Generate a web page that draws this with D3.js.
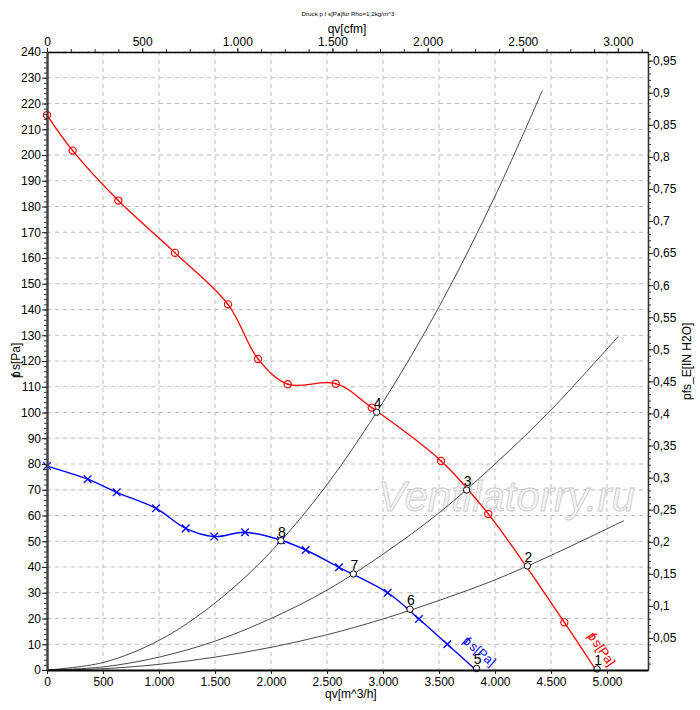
<!DOCTYPE html>
<html>
<head>
<meta charset="utf-8">
<script src="https://cdn.jsdelivr.net/npm/d3@7"></script>
<style>
  body { margin: 0; background: #fff; }
  text { font-family: "Liberation Sans", Arial, sans-serif; }
</style>
</head>
<body>
<div id="chart"></div>
<script>
// fan curves, values (q in m^3/h, p in Pa)
var redQ = [0, 229, 637, 1143, 1616, 1884, 2149, 2578, 2899, 3518, 3940, 4619, 4900];
var redP = [215.5, 201.7, 182.3, 162, 142, 120.8, 111, 111.2, 101.9, 81.2, 60.6, 18.5, 0];

var blueQ = [0, 363, 622, 973, 1238, 1494, 1768, 2089, 2310, 2607, 3042, 3321, 3574, 3830];
var blueP = [79.2, 74.1, 69.0, 62.8, 55.0, 51.8, 53.5, 50.4, 46.6, 39.9, 30.0, 19.8, 10.0, 0];

// system curves (black)
var sysAQ = [0, 500, 1000, 1500, 2000, 2500, 3000, 3500, 4000, 4422];
var sysAP = [0, 2.9, 11.5, 26, 46, 72, 104, 141, 184, 225];
var sysBQ = [0, 500, 1000, 1500, 2000, 2500, 3000, 3500, 4000, 4500, 5100];
var sysBP = [0, 1.2, 5, 11.2, 20, 31, 45, 61, 80, 101, 129.5];
var sysCQ = [0, 500, 1000, 1500, 2000, 2500, 3000, 3500, 4000, 4500, 5150];
var sysCP = [0, 0.5, 2.2, 5, 8.8, 13.7, 19.8, 27, 35, 44.5, 58];

// operating points 1..8
var opLabels = ["1", "2", "3", "4", "5", "6", "7", "8"];
var opQ = [4911, 4289, 3747, 2943, 3835, 3241, 2735, 2089];
var opP = [0.4, 40.4, 69.9, 100.1, 0.6, 23.6, 37.3, 50.2];

// ticks
var leftTicks = [0, 10, 20, 30, 40, 50, 60, 70, 80, 90, 100, 110, 120, 130, 140, 150, 160, 170, 180, 190, 200, 210, 220, 230, 240];
var rightTicks = [0.05, 0.1, 0.15, 0.2, 0.25, 0.3, 0.35, 0.4, 0.45, 0.5, 0.55, 0.6, 0.65, 0.7, 0.75, 0.8, 0.85, 0.9, 0.95];
var bottomTicks = [0, 500, 1000, 1500, 2000, 2500, 3000, 3500, 4000, 4500, 5000];
var topTicks = [0, 500, 1000, 1500, 2000, 2500, 3000];

var qMax = 5366;      // m^3/h at right edge
var cfmFactor = 1.699; // m^3/h per cfm
var paPerInch = 249.089;

var w = 700, h = 710;
var pl = 47, pr = 648, pt = 52, pb = 670; // plot box

var svg = d3.select("#chart").append("svg")
    .attr("width", w)
    .attr("height", h);

var x = d3.scaleLinear().domain([0, qMax]).range([pl, pr]);
var y = d3.scaleLinear().domain([0, 240]).range([pb, pt]);
var xCfm = d3.scaleLinear().domain([0, qMax / cfmFactor]).range([pl, pr]);
var yIn = d3.scaleLinear().domain([0, 240 / paPerInch]).range([pb, pt]);

var de = d3.formatLocale({ decimal: ",", thousands: ".", grouping: [3], currency: ["", ""] });
var fmtQ = de.format(",");
var fmtIn = function (d) { return de.format(".2~f")(d); };

// grid
svg.append("g").selectAll("line")
    .data(leftTicks.slice(1))
    .enter().append("line")
    .attr("x1", pl).attr("x2", pr)
    .attr("y1", d => y(d)).attr("y2", d => y(d))
    .attr("stroke", "#bdbdbd").attr("stroke-dasharray", "4,4");
svg.append("g").selectAll("line")
    .data(bottomTicks.slice(1))
    .enter().append("line")
    .attr("x1", d => x(d)).attr("x2", d => x(d))
    .attr("y1", pt).attr("y2", pb)
    .attr("stroke", "#bdbdbd").attr("stroke-dasharray", "4,4");

// watermark
svg.append("text")
    .attr("x", 378).attr("y", 511)
    .attr("font-size", "42px")
    .attr("font-style", "italic")
    .attr("fill", "#f4f4f4")
    .attr("stroke", "#cacaca")
    .attr("stroke-width", 0.8)
    .text("Ventilatorry.ru");

// system curves
var line = d3.line().x(d => x(d[0])).y(d => y(d[1])).curve(d3.curveCatmullRom);
[[sysAQ, sysAP], [sysBQ, sysBP], [sysCQ, sysCP]].forEach(function (s) {
    svg.append("path")
        .datum(d3.zip(s[0], s[1]))
        .attr("d", line)
        .attr("fill", "none")
        .attr("stroke", "#333")
        .attr("stroke-width", 0.9);
});

// red curve
var redData = d3.zip(redQ, redP);
svg.append("path")
    .datum(redData)
    .attr("d", line)
    .attr("fill", "none")
    .attr("stroke", "#ff0000")
    .attr("stroke-width", 1.3);
var rm = svg.append("g").selectAll("g")
    .data(redData.slice(0, -1))
    .enter().append("g")
    .attr("transform", d => "translate(" + x(d[0]) + "," + y(d[1]) + ")");
rm.append("circle").attr("r", 3.6).attr("fill", "none").attr("stroke", "#ff0000").attr("stroke-width", 1.2);
rm.append("circle").attr("r", 0.8).attr("fill", "#ff0000");

// blue curve
var blueData = d3.zip(blueQ, blueP);
svg.append("path")
    .datum(blueData)
    .attr("d", line)
    .attr("fill", "none")
    .attr("stroke", "#0000ff")
    .attr("stroke-width", 1.4);
svg.append("g").selectAll("path")
    .data(blueData.slice(0, -1))
    .enter().append("path")
    .attr("d", function (d) {
        var cx = x(d[0]), cy = y(d[1]), s = 3.8;
        return "M" + (cx - s) + "," + (cy - s) + "L" + (cx + s) + "," + (cy + s) +
            "M" + (cx - s) + "," + (cy + s) + "L" + (cx + s) + "," + (cy - s);
    })
    .attr("stroke", "#0000ff")
    .attr("stroke-width", 1.3);

// curve labels
function pfLabel(sel, txt) {
    sel.append("tspan").text("p");
    sel.append("tspan").attr("dx", "-0.45em").text("f");
    sel.append("tspan").text(txt);
}
pfLabel(svg.append("text")
    .attr("transform", "translate(587,636) rotate(55)")
    .attr("font-size", "13px")
    .attr("fill", "#ff0000"), " s[Pa]");
pfLabel(svg.append("text")
    .attr("transform", "translate(462,642) rotate(41)")
    .attr("font-size", "13px")
    .attr("fill", "#0000ff"), " s[Pa]");

// operating points
var ops = d3.zip(opQ, opP, opLabels);
svg.append("g").selectAll("circle")
    .data(ops)
    .enter().append("circle")
    .attr("cx", d => x(d[0])).attr("cy", d => y(d[1]))
    .attr("r", 3.2)
    .attr("fill", "#fff")
    .attr("stroke", "#000")
    .attr("stroke-width", 1);
svg.append("g").selectAll("text")
    .data(ops)
    .enter().append("text")
    .attr("x", d => x(d[0]) + 1).attr("y", d => y(d[1]) - 4)
    .attr("text-anchor", "middle")
    .attr("font-size", "14px")
    .text(d => d[2]);

// axes
function styleAxis(g, col, width) {
    g.select(".domain").attr("stroke", col).attr("stroke-width", width);
    g.selectAll(".tick line").attr("stroke", "#222");
    g.selectAll("text").attr("font-size", "12px").attr("fill", "#000")
        .attr("font-family", "Liberation Sans, Arial, sans-serif");
}

// minor ticks
svg.append("g")
    .attr("transform", "translate(" + pl + ",0)")
    .call(d3.axisLeft(y).tickValues(d3.range(0, 241, 2)).tickSize(3).tickSizeOuter(0).tickFormat(""))
    .call(g => g.select(".domain").remove())
    .selectAll("line").attr("stroke", "#333");
svg.append("g")
    .attr("transform", "translate(" + pr + ",0)")
    .call(d3.axisRight(yIn).tickValues(d3.range(1, 97).map(d => d / 100)).tickSize(3).tickSizeOuter(0).tickFormat(""))
    .call(g => g.select(".domain").remove())
    .selectAll("line").attr("stroke", "#333");
svg.append("g")
    .attr("transform", "translate(0," + pt + ")")
    .call(d3.axisTop(xCfm).tickValues(d3.range(0, 3151, 125)).tickSize(3).tickSizeOuter(0).tickFormat(""))
    .call(g => g.select(".domain").remove())
    .selectAll("line").attr("stroke", "#333");

var gl = svg.append("g")
    .attr("transform", "translate(" + pl + ",0)")
    .call(d3.axisLeft(y).tickValues(leftTicks).tickSize(5).tickPadding(1).tickSizeOuter(0));
styleAxis(gl, "#444", 2.5);

var gr = svg.append("g")
    .attr("transform", "translate(" + pr + ",0)")
    .call(d3.axisRight(yIn).tickValues(rightTicks).tickSize(5).tickPadding(0).tickSizeOuter(0).tickFormat(fmtIn));
styleAxis(gr, "#333", 1.6);

var gb = svg.append("g")
    .attr("transform", "translate(0," + pb + ")")
    .call(d3.axisBottom(x).tickValues(bottomTicks).tickSize(4).tickPadding(3).tickSizeOuter(0).tickFormat(fmtQ));
styleAxis(gb, "#000", 2.2);

var gt = svg.append("g")
    .attr("transform", "translate(0," + pt + ")")
    .call(d3.axisTop(xCfm).tickValues(topTicks).tickSize(4).tickPadding(2).tickSizeOuter(0).tickFormat(fmtQ));
styleAxis(gt, "#000", 1.6);

// titles
svg.append("text")
    .attr("x", 348).attr("y", 16)
    .attr("text-anchor", "middle")
    .attr("font-size", "6.2px")
    .text("Druck p f s[Pa]für Rho=1,2kg/m^3");

svg.append("text")
    .attr("x", 347).attr("y", 33)
    .attr("text-anchor", "middle")
    .attr("font-size", "12px")
    .text("qv[cfm]");

svg.append("text")
    .attr("x", 325).attr("y", 698)
    .attr("font-size", "12px")
    .text("qv[m^3/h]");

pfLabel(svg.append("text")
    .attr("transform", "translate(20,378) rotate(-90)")
    .attr("font-size", "12px"), " s[Pa]");

svg.append("text")
    .attr("transform", "translate(691,400) rotate(-90)")
    .attr("font-size", "12px")
    .text("pfs_E[IN H2O]");
</script>
</body>
</html>
